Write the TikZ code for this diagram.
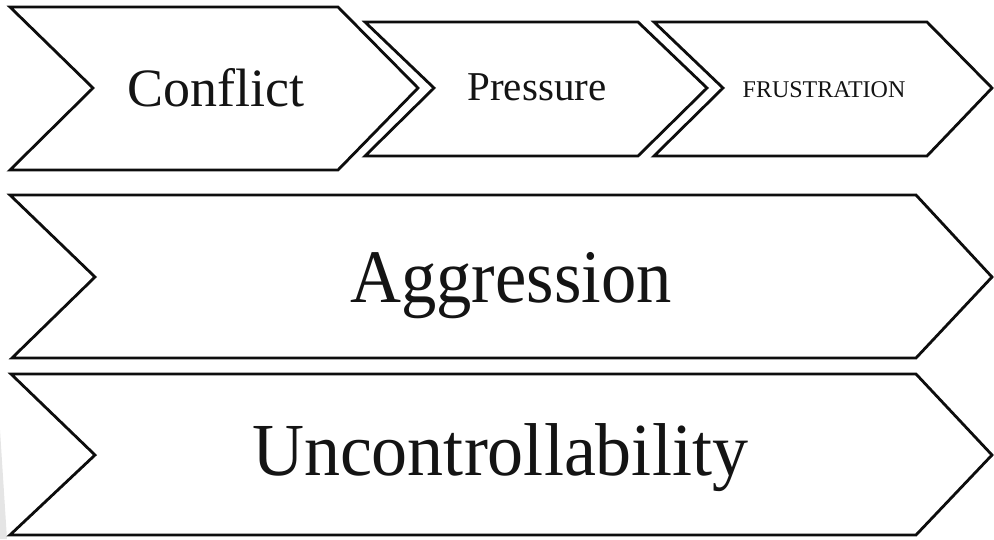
\documentclass[tikz,border=0pt]{standalone}
\usepackage{fontspec}
\setmainfont{Liberation Serif}
\begin{document}
\begin{tikzpicture}[x=1pt,y=-1pt,
  chev/.style={draw=black!95,line width=2.8pt,line join=miter,fill=white},
  lbl/.style={anchor=base,inner sep=0pt,text=black!92}]
\useasboundingbox (0,0) rectangle (994,539);
\fill[black!10] (0,430) -- (7,539) -- (0,539) -- cycle;
% top row
\draw[chev] (10,7) -- (338,7) -- (418,88) -- (338,170) -- (10,170) -- (93,88) -- cycle;
\draw[chev] (365,22) -- (638,22) -- (707,88) -- (638,156) -- (365,156) -- (434,88) -- cycle;
\draw[chev] (654,22) -- (927,22) -- (992,88) -- (927,156) -- (654,156) -- (723,88) -- cycle;
% big rows
\draw[chev] (10,195) -- (916,195) -- (992,277) -- (916,358) -- (12,358) -- (95,277) -- cycle;
\draw[chev] (11,374) -- (916,374) -- (992,455) -- (916,535) -- (10,535) -- (95,455) -- cycle;
% labels
\node[lbl,font=\fontsize{54}{60}\selectfont] (conflict) at (216,106) {Conflict};
\node[lbl,font=\fontsize{41}{48}\selectfont] (pressure) at (537,100) {Pressure};
\node[lbl,font=\fontsize{24}{28}\selectfont] (frustration) at (824,97) {FRUSTRATION};
\node[lbl,font=\fontsize{72}{80}\selectfont,xscale=0.98,yscale=1.05] (aggression) at (511,302) {Aggression};
\node[lbl,font=\fontsize{72}{80}\selectfont,yscale=1.04] (uncontrol) at (500,475) {Uncontrollability};
\end{tikzpicture}
\end{document}
